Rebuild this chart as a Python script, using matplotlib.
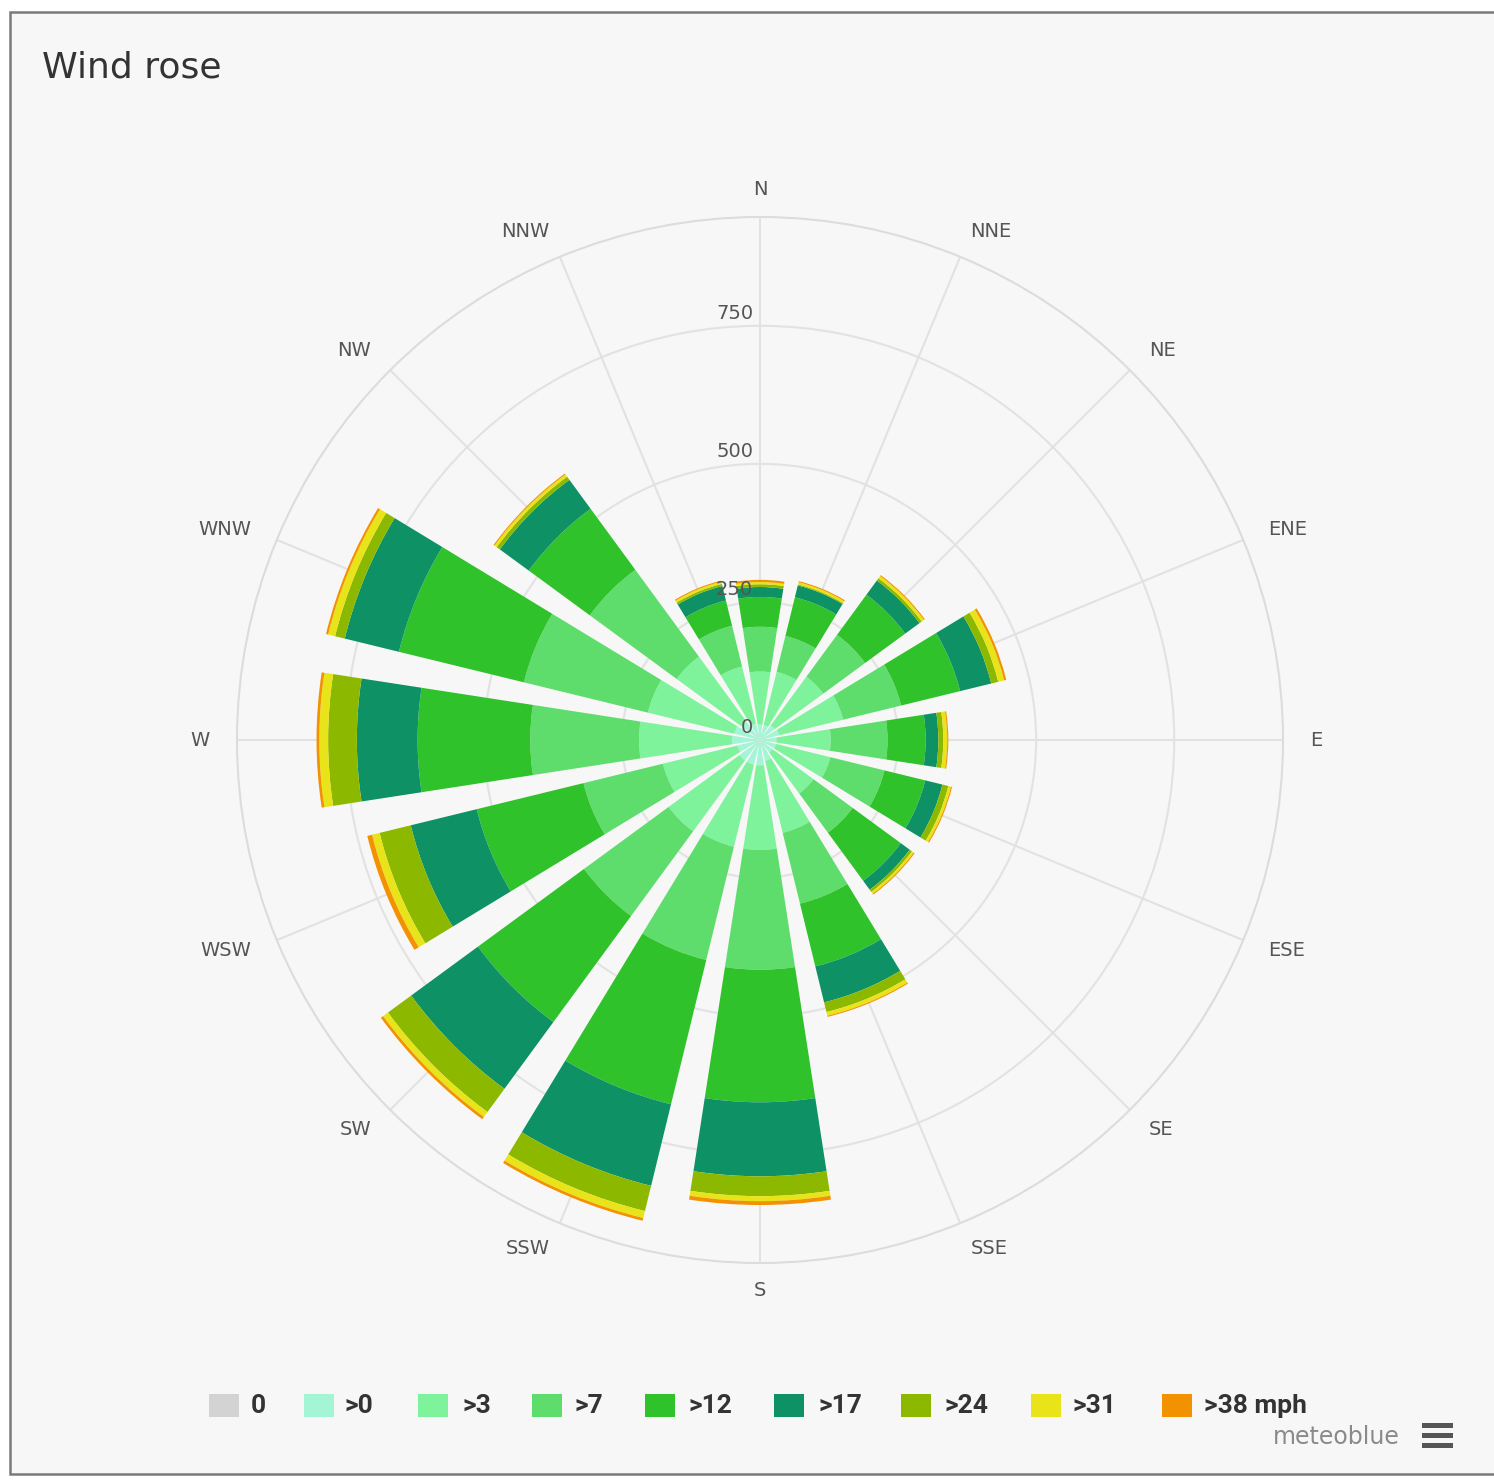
import numpy as np
import matplotlib
matplotlib.use("Agg")
import matplotlib.pyplot as plt
from matplotlib.patches import Rectangle

# Richtungen (im Uhrzeigersinn ab Nord)
richtungen = ["N", "NNE", "NE", "ENE", "E", "ESE", "SE", "SSE",
              "S", "SSW", "SW", "WSW", "W", "WNW", "NW", "NNW"]

# Stunden je Geschwindigkeitsklasse (mph)
klassen = ["0", ">0", ">3", ">7", ">12", ">17", ">24", ">31", ">38 mph"]
farben = ["#d3d3d3", "#a3f5d6", "#7ff29c", "#5fdd6c", "#30c22a",
          "#0f9166", "#8db800", "#e9e31a", "#f39200"]

calm = [1, 1, 1, 1, 1, 1, 1, 1, 1, 1, 1, 1, 1, 1, 1, 1]
v0 = [27, 27, 32, 35, 29, 29, 27, 38, 45, 45, 45, 41, 50, 47, 42, 30]
v3 = [96, 99, 109, 119, 98, 101, 92, 134, 153, 153, 159, 139, 168, 161, 144, 106]
v7 = [81, 67, 94, 108, 103, 101, 88, 132, 217, 211, 190, 148, 197, 231, 195, 76]
v12 = [54, 72, 90, 110, 69, 76, 108, 117, 240, 269, 238, 199, 204, 233, 137, 47]
v17 = [18, 22, 32, 58, 23, 32, 20, 67, 134, 152, 150, 123, 110, 101, 65, 27]
v24 = [5, 2, 5, 13, 9, 11, 5, 18, 36, 47, 52, 58, 52, 18, 7, 4]
v31 = [4, 4, 5, 11, 7, 5, 4, 7, 9, 13, 11, 14, 16, 13, 5, 4]
v38 = [4, 2, 2, 4, 2, 2, 2, 2, 7, 5, 5, 9, 5, 4, 2, 2]
werte = [calm, v0, v3, v7, v12, v17, v24, v31, v38]

r_ticks = [250, 500, 750]
r_max = 947

W_PX, H_PX = 1494, 1483
fig = plt.figure(figsize=(W_PX / 100, H_PX / 100), dpi=100)
fig.patch.set_facecolor("white")


def fx(px):
    return px / W_PX


def fy(py):
    return 1 - py / H_PX


# Rahmen mit hellgrauem Hintergrund
rahmen = Rectangle((fx(10), fy(1474)), 1.0, fy(12) - fy(1474), transform=fig.transFigure,
                   facecolor="#f7f7f7", edgecolor="#7a7a7a", lw=1.8, zorder=-1)
fig.patches.append(rahmen)

# Polarachse: Mitte (760, 740), Radius 523 px
cx, cy, rad = 760, 740, 523
ax = fig.add_axes([fx(cx - rad), fy(cy + rad), 2 * rad / W_PX, 2 * rad / H_PX],
                  projection="polar")
ax.set_zorder(1)
ax.set_facecolor("none")
ax.set_theta_zero_location("N")
ax.set_theta_direction(-1)
ax.set_ylim(0, r_max)

theta = np.deg2rad(np.arange(16) * 22.5)
breite = np.deg2rad(22.5) * 0.78

unten = np.zeros(16)
for name, farbe, v in zip(klassen, farben, werte):
    v = np.array(v, dtype=float)
    ax.bar(theta, v, width=breite, bottom=unten, color=farbe, edgecolor="none",
           linewidth=0, zorder=2, label=name)
    unten += v

ax.set_axisbelow(True)
ax.set_xticks(theta)
ax.set_xticklabels([])
ax.set_yticks(r_ticks)
ax.set_yticklabels([])
ax.grid(True, color="#e2e2e2", lw=1.5)
ax.spines["polar"].set_color("#dcdcdc")
ax.spines["polar"].set_linewidth(1.5)
ax.tick_params(length=0)

# Richtungsbeschriftung: rechts linksbündig, links rechtsbündig
for t, name in zip(theta, richtungen):
    s = np.sin(t)
    ha = "center" if abs(s) < 0.1 else ("left" if s > 0 else "right")
    ax.text(t, r_max * 1.052, name, ha=ha, va="center", fontsize=14,
            color="#555555", clip_on=False)

for r in [0] + r_ticks:
    ax.annotate(str(r), xy=(0, r), xytext=(-5, 2), textcoords="offset points",
                ha="right", va="bottom", fontsize=14, color="#555555", zorder=5)

fig.text(fx(42), fy(68), "Wind rose", fontsize=26, color="#333333", va="center", ha="left")

# Legende unten
sq_x = [209, 304, 418, 532, 645, 774, 901, 1031, 1162]
txt_x = [251, 345, 462, 575, 688, 818, 945, 1072, 1204]
for name, farbe, sx, tx in zip(klassen, farben, sq_x, txt_x):
    fig.patches.append(Rectangle((fx(sx), fy(1417)), 30 / W_PX, 23 / H_PX,
                                 transform=fig.transFigure, facecolor=farbe,
                                 edgecolor="none", zorder=3))
    fig.text(fx(tx), fy(1406), name, fontsize=19, fontweight="bold", color="#333333",
             va="center", ha="left", family=["Roboto", "DejaVu Sans"])

fig.text(fx(1400), fy(1437), "meteoblue", fontsize=17, color="#8a8a8a", va="center", ha="right")
for yy in [1425, 1435, 1445]:
    fig.patches.append(Rectangle((fx(1422), fy(yy + 3)), 31 / W_PX, 5 / H_PX,
                                 transform=fig.transFigure, facecolor="#555555",
                                 edgecolor="none", zorder=3))

fig.savefig("out.png", dpi=100, facecolor=fig.get_facecolor())
